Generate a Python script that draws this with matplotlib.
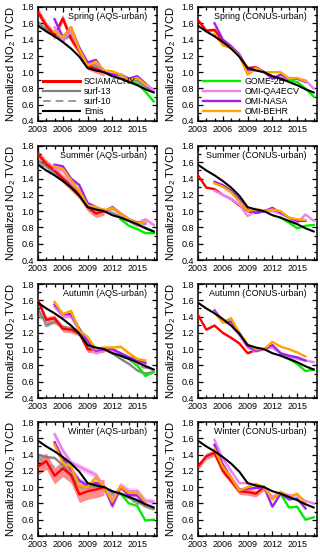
import numpy as np
import matplotlib
matplotlib.use("Agg")
import matplotlib.pyplot as plt
from matplotlib.lines import Line2D
from matplotlib.ticker import MultipleLocator

plt.rcParams.update({
    "font.family": ["Liberation Sans", "DejaVu Sans"],
    "mathtext.default": "regular",
    "axes.linewidth": 1.1,
})

# ---------------- data ----------------
panels = ["Spring (AQS-urban)", "Spring (CONUS-urban)",
          "Summer (AQS-urban)", "Summer (CONUS-urban)",
          "Autumn (AQS-urban)", "Autumn (CONUS-urban)",
          "Winter (AQS-urban)", "Winter (CONUS-urban)"]

yr_all = list(range(2003, 2018))   # emis, surf
yr_sci = list(range(2003, 2012))   # SCIAMACHY
yr_omi = list(range(2005, 2017))   # OMI-NASA, OMI-BEHR
yr_qa = list(range(2005, 2018))    # OMI-QA4ECV
yr_gome = list(range(2013, 2018))  # GOME-2B
year_ticks = [2003, 2006, 2009, 2012, 2015]

emis = [1.57, 1.50, 1.44, 1.37, 1.29, 1.19, 1.05, 1.02, 1.00, 0.95, 0.92, 0.88, 0.84, 0.79, 0.75]

sciamachy = [
    [1.74, 1.57, 1.45, 1.66, 1.41, 1.26, 1.08, 1.04, 1.00],
    [1.64, 1.51, 1.52, 1.38, 1.30, 1.20, 1.05, 1.06, 1.00],
    [1.70, 1.58, 1.50, 1.40, 1.30, 1.20, 1.05, 0.97, 1.00],
    [1.44, 1.29, 1.27, 1.20, 1.15, 1.07, 1.00, 0.98, 1.00],
    [1.60, 1.36, 1.38, 1.25, 1.24, 1.20, 1.00, 0.99, 1.00],
    [1.42, 1.24, 1.29, 1.20, 1.14, 1.07, 0.95, 0.99, 1.00],
    [1.25, 1.32, 1.14, 1.23, 1.15, 0.91, 0.95, 0.97, 1.00],
    [1.25, 1.38, 1.42, 1.20, 1.08, 0.95, 0.94, 0.92, 1.00],
]
# surface sites only in AQS panels (spring, summer, autumn, winter)
surf13 = [
    [1.62, 1.52, 1.47, 1.40, 1.45, 1.28, 1.10, 1.08, 1.00, 0.96, 0.93, 0.88, 0.90, 0.82, 0.77],
    [1.62, 1.55, 1.48, 1.40, 1.33, 1.22, 1.08, 1.02, 1.00, 0.98, 0.93, 0.88, 0.83, 0.80, 0.75],
    [1.50, 1.30, 1.33, 1.28, 1.25, 1.18, 1.02, 0.98, 1.00, 0.95, 0.88, 0.82, 0.74, 0.70, 0.72],
    [1.40, 1.37, 1.36, 1.27, 1.15, 1.02, 1.00, 1.02, 1.00, 0.93, 0.92, 0.87, 0.82, 0.77, 0.73],
]
surf10 = [
    [1.60, 1.50, 1.45, 1.38, 1.42, 1.26, 1.09, 1.06, 1.00, 0.95, 0.92, 0.88, 0.88, 0.81, 0.77],
    [1.60, 1.53, 1.46, 1.38, 1.31, 1.21, 1.07, 1.01, 1.00, 0.97, 0.92, 0.87, 0.82, 0.79, 0.75],
    [1.45, 1.28, 1.32, 1.28, 1.25, 1.20, 1.02, 0.98, 1.00, 0.96, 0.91, 0.87, 0.80, 0.77, 0.75],
    [1.38, 1.28, 1.25, 1.22, 1.13, 1.00, 0.98, 1.03, 1.00, 0.90, 0.93, 0.86, 0.80, 0.76, 0.72],
]
omi_nasa = [
    [1.65, 1.43, 1.55, 1.30, 1.12, 1.15, 1.00, 0.97, 0.97, 0.92, 0.95, 0.86],
    [1.60, 1.40, 1.32, 1.22, 1.03, 1.03, 1.00, 0.92, 0.97, 0.92, 0.92, 0.88],
    [1.57, 1.55, 1.40, 1.32, 1.10, 1.05, 1.00, 1.05, 0.97, 0.90, 0.86, 0.85],
    [1.36, 1.32, 1.25, 1.15, 1.02, 0.98, 1.00, 1.04, 0.98, 0.92, 0.88, 0.88],
    [1.55, 1.43, 1.43, 1.25, 1.10, 0.98, 1.00, 1.00, 0.95, 0.90, 0.87, 0.83],
    [1.47, 1.33, 1.34, 1.20, 1.04, 0.98, 1.00, 1.05, 0.95, 0.92, 0.90, 0.86],
    [1.55, 1.35, 1.22, 1.08, 1.02, 1.05, 1.00, 0.77, 1.00, 0.90, 0.90, 0.78],
    [1.52, 1.28, 1.12, 0.97, 0.98, 0.99, 1.00, 0.76, 0.92, 0.85, 0.86, 0.74],
]
omi_behr = [
    [1.50, 1.43, 1.55, 1.28, 1.08, 1.13, 1.02, 1.01, 0.97, 0.90, 0.93, 0.85],
    [1.47, 1.33, 1.30, 1.20, 0.97, 1.04, 1.00, 1.00, 1.00, 0.92, 0.93, 0.89],
    [1.55, 1.52, 1.38, 1.25, 1.07, 1.05, 1.01, 1.04, 0.97, 0.90, 0.85, 0.86],
    [1.34, 1.30, 1.23, 1.12, 1.00, 1.03, 1.00, 1.02, 1.00, 0.92, 0.90, 0.89],
    [1.58, 1.43, 1.47, 1.23, 1.15, 1.00, 1.02, 1.02, 1.03, 0.95, 0.88, 0.86],
    [1.45, 1.33, 1.38, 1.20, 1.06, 1.00, 1.00, 1.09, 1.03, 1.00, 0.96, 0.91],
    [1.52, 1.30, 1.25, 1.02, 1.00, 1.12, 1.00, 0.82, 1.01, 0.93, 0.93, 0.82],
    [1.47, 1.25, 1.12, 0.96, 1.00, 1.04, 1.00, 0.85, 0.94, 0.88, 0.92, 0.80],
]
omi_qa4ecv = [
    [1.55, 1.40, 1.50, 1.28, 1.10, 1.12, 1.00, 0.97, 0.95, 0.90, 0.92, 0.86, 0.78],
    [1.45, 1.35, 1.30, 1.20, 1.00, 1.05, 1.00, 0.95, 0.93, 0.93, 0.92, 0.90, 0.80],
    [1.52, 1.50, 1.35, 1.25, 1.08, 1.03, 1.00, 1.03, 0.97, 0.90, 0.85, 0.90, 0.83],
    [1.25, 1.20, 1.15, 1.08, 0.94, 1.00, 1.00, 1.00, 0.97, 0.92, 0.85, 0.96, 0.88],
    [1.52, 1.40, 1.40, 1.22, 1.10, 0.95, 1.00, 0.98, 0.95, 0.88, 0.83, 0.80, 0.74],
    [1.48, 1.35, 1.30, 1.17, 1.02, 0.97, 1.00, 1.02, 0.95, 0.90, 0.88, 0.86, 0.84],
    [1.65, 1.45, 1.30, 1.25, 1.20, 1.15, 1.00, 0.85, 1.02, 0.95, 0.95, 0.83, 0.82],
    [1.58, 1.35, 1.20, 1.05, 1.05, 1.02, 1.00, 0.88, 0.94, 0.90, 0.90, 0.83, 0.80],
]
gome2b = [
    [0.92, 0.88, 0.86, 0.76, 0.64],
    [0.92, 0.90, 0.88, 0.80, 0.70],
    [0.90, 0.82, 0.78, 0.73, 0.73],
    [0.92, 0.86, 0.79, 0.82, 0.83],
    [0.92, 0.88, 0.80, 0.67, 0.72],
    [0.92, 0.88, 0.82, 0.73, 0.75],
    [0.92, 0.80, 0.77, 0.59, 0.60],
    [0.92, 0.75, 0.76, 0.60, 0.63],
]
# half-width of the shaded spread around each line, per panel
spread_sci = [0.05, 0.02, 0.05, 0.01, 0.04, 0.01, 0.10, 0.04]
spread_sat = [0.02, 0.01, 0.02, 0.005, 0.02, 0.005, 0.04, 0.01]
spread_surf = 0.02

RED = "#ff0000"
GRAY = "#808080"
GRAY2 = "#9a9a9a"
GREEN = "#00ee00"
VIOLET = "#ee82ee"
PURPLE = "#a020f0"
ORANGE = "#ffa500"

W, H = 320, 556
tops = [7, 146, 284, 422]
lefts = [38, 198]
aw, ah = 119, 114

fig = plt.figure(figsize=(W / 100, H / 100), dpi=100)


def band(ax, x, y, dy, color, alpha):
    y = np.asarray(y)
    ax.fill_between(x, y - dy, y + dy, color=color, alpha=alpha, lw=0, zorder=1)


for i, name in enumerate(panels):
    row, col = divmod(i, 2)
    ax = fig.add_axes([lefts[col] / W, 1 - (tops[row] + ah) / H, aw / W, ah / H])
    aqs = col == 0

    if aqs:
        s13, s10 = surf13[row], surf10[row]
        band(ax, yr_all, s13, spread_surf, GRAY, 0.35)
        ax.plot(yr_all, s13, color=GRAY, lw=1.4, zorder=2)
        ax.plot(yr_all, s10, color=GRAY2, lw=1.4, ls=(0, (4, 2.5)), zorder=2)

    band(ax, yr_sci, sciamachy[i], spread_sci[i], RED, 0.45)
    ax.plot(yr_sci, sciamachy[i], color=RED, lw=1.7, zorder=3)

    band(ax, yr_qa, omi_qa4ecv[i], spread_sat[i], VIOLET, 0.45)
    band(ax, yr_omi, omi_nasa[i], spread_sat[i], PURPLE, 0.25)
    band(ax, yr_omi, omi_behr[i], spread_sat[i], ORANGE, 0.35)
    ax.plot(yr_gome, gome2b[i], color=GREEN, lw=1.7, zorder=3)
    ax.plot(yr_qa, omi_qa4ecv[i], color=VIOLET, lw=1.7, zorder=3)
    ax.plot(yr_omi, omi_nasa[i], color=PURPLE, lw=1.7, zorder=3)
    ax.plot(yr_omi, omi_behr[i], color=ORANGE, lw=1.7, zorder=3)
    ax.plot(yr_all, emis, color="black", lw=1.5, zorder=4)

    ax.set_xlim(2003, 2017.4)
    ax.set_ylim(0.4, 1.8)
    ax.set_xticks(year_ticks)
    ax.xaxis.set_minor_locator(MultipleLocator(1))
    ax.yaxis.set_major_locator(MultipleLocator(0.2))
    ax.yaxis.set_minor_locator(MultipleLocator(0.1))
    ax.yaxis.set_major_formatter(lambda v, p: f"{v:.1f}")
    ax.tick_params(which="both", direction="in", top=True, right=True,
                   labelsize=6.5, width=0.9, pad=3)
    ax.tick_params(which="major", length=3.5)
    ax.tick_params(which="minor", length=2)
    ax.set_ylabel("Normalized NO$_2$ TVCD", fontsize=8, labelpad=2)
    ax.text(0.915, 0.92, name, transform=ax.transAxes, ha="right", va="center",
            fontsize=6.4)

    if i == 0:
        handles = [Line2D([], [], color=RED, lw=2.2),
                   Line2D([], [], color=GRAY, lw=1.6),
                   Line2D([], [], color=GRAY2, lw=1.4, ls=(0, (4, 2.5))),
                   Line2D([], [], color="black", lw=1.5)]
        labels = ["SCIAMACHY", "surf-13", "surf-10", "Emis"]
    elif i == 1:
        handles = [Line2D([], [], color=c, lw=1.7) for c in (GREEN, VIOLET, PURPLE, ORANGE)]
        labels = ["GOME-2B", "OMI-QA4ECV", "OMI-NASA", "OMI-BEHR"]
    else:
        continue
    ax.legend(handles, labels, loc="lower left", bbox_to_anchor=(0.02, 0.02),
              frameon=False, fontsize=6.3, handlelength=4.2, handletextpad=0.5,
              labelspacing=0.12, borderaxespad=0.2, borderpad=0.1)

fig.savefig("out.png", dpi=100, facecolor="white")
